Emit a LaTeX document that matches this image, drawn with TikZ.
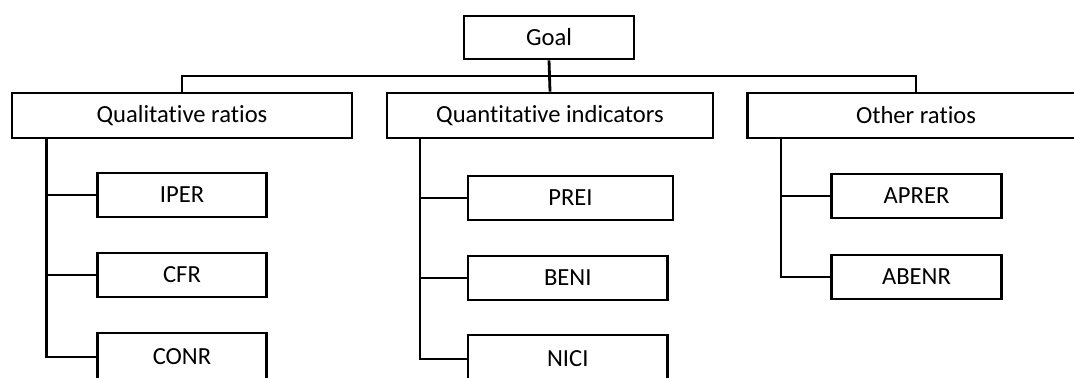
\documentclass[tikz,border=0pt]{standalone}
\usepackage{fontspec}
\setmainfont{Carlito}[Ligatures=NoCommon]
\usepackage{tikz}

\begin{document}
\begin{tikzpicture}[x=0.5pt,y=-0.5pt,
    box/.style={draw,line width=1.4pt,inner sep=0pt,minimum height=22pt,
        font=\fontsize{12.3}{14}\selectfont},
    link/.style={line width=1.4pt}]
\useasboundingbox (0,0) rectangle (1074,378);

% Goal and the three groups
\node[box,minimum width=85pt,minimum height=21.5pt] (goal) at (549,37.5) {Goal};
\node[box,minimum width=170pt,minimum height=22.5pt] (qual) at (182,115.5) {Qualitative ratios};
\node[box,minimum width=163pt,minimum height=22.5pt] (quant) at (550,115.5) {Quantitative indicators};
\node[box,minimum width=168.5pt,minimum height=22.5pt] (other) at (916,115.5) {Other ratios};

% Qualitative ratios
\node[box,minimum width=84.75pt] (iper) at (182,195) {IPER};
\node[box,minimum width=84.75pt] (cfr) at (182,275) {CFR};
\node[box,minimum width=84.75pt,minimum height=24pt] (conr) at (182,357) {CONR};

% Quantitative indicators
\node[box,minimum width=102.5pt] (prei) at (570.5,198) {PREI};
\node[box,minimum width=99.75pt] (beni) at (567.75,278) {BENI};
\node[box,minimum width=99.75pt,minimum height=24pt] (nici) at (567.75,359) {NICI};

% Other ratios
\node[box,minimum width=85pt] (aprer) at (916.5,196) {APRER};
\node[box,minimum width=85pt] (abenr) at (916.5,277) {ABENR};

% Bus under the goal
\coordinate (bus) at (549,76);
\draw[link] (goal.south) -- (quant.north);
\draw[link] (qual.north) |- (bus) -| (other.north);

% Spines
\coordinate (qs) at (46.5,138);
\coordinate (ns) at (420,139);
\coordinate (os) at (781,137);
\draw[link] (qs) |- (iper.west);
\draw[link] (qs) |- (cfr.west);
\draw[link] (qs) |- (conr.west);
\draw[link] (ns) |- (prei.west);
\draw[link] (ns) |- (beni.west);
\draw[link] (ns) |- (nici.west);
\draw[link] (os) |- (aprer.west);
\draw[link] (os) |- (abenr.west);
\end{tikzpicture}
\end{document}
